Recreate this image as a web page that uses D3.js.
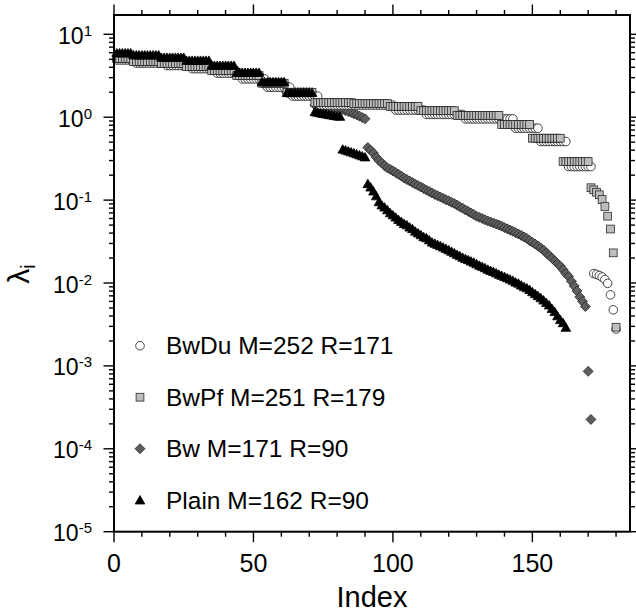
<!DOCTYPE html>
<html>
<head>
<meta charset="utf-8">
<script src="https://cdn.jsdelivr.net/npm/d3@7"></script>
<style>
  body { margin: 0; background: #fff; }
  text { font-family: "Liberation Sans", Arial, Helvetica, sans-serif; fill: #000; }
</style>
</head>
<body>
<svg id="chart" width="636" height="614"></svg>
<script>
// plateaus as [count, value]; tails as one value per index
const bwduRuns = [[7, 4.9], [11, 4.5], [9, 4.2], [9, 3.85], [9, 3.4], [9, 2.9], [9, 2.3], [10, 1.8],
                  [27, 1.40], [11, 1.22], [14, 1.08], [18, 0.955], [9, 0.737], [10, 0.509], [9, 0.254]];
const bwduTail = [0.0130, 0.0127, 0.0123, 0.0118, 0.0110, 0.0099, 0.0072, 0.00475, 0.00279];

const bwpfRuns = [[6, 5.11], [10, 4.70], [9, 4.44], [9, 4.09], [9, 3.66], [9, 3.18], [9, 2.57], [10, 2.00],
                  [14, 1.50], [13, 1.46], [11, 1.35], [13, 1.20], [16, 1.05], [11, 0.817], [11, 0.558], [10, 0.292]];
const bwpfTail = [0.141, 0.133, 0.1245, 0.116, 0.1017, 0.0837, 0.064, 0.0448, 0.0231, 0.00293];

const bwRuns = [[6, 5.5], [10, 5.15], [9, 4.85], [9, 4.45], [9, 3.9], [9, 3.3], [9, 2.6], [10, 1.98]];
const bwTail = [1.40, 1.38, 1.36, 1.35, 1.33, 1.32, 1.30, 1.29, 1.28, 1.27,
  1.24, 1.20, 1.17, 1.14, 1.10, 1.07, 1.03, 0.99, 0.956,
  0.43, 0.40, 0.37, 0.33, 0.30, 0.28, 0.26, 0.245, 0.235, 0.225,
  0.215, 0.205, 0.195, 0.185, 0.177, 0.170, 0.163, 0.156, 0.150, 0.144,
  0.138, 0.132, 0.127, 0.122, 0.117, 0.113, 0.109, 0.105, 0.101, 0.098,
  0.094, 0.091, 0.087, 0.083, 0.080, 0.076, 0.073, 0.070, 0.067, 0.064,
  0.062, 0.060, 0.058, 0.056, 0.0545, 0.053, 0.0515, 0.050, 0.0485, 0.0465,
  0.045, 0.0435, 0.042, 0.0405, 0.039, 0.0375, 0.036, 0.0345, 0.0325, 0.031,
  0.0295, 0.028, 0.0265, 0.025, 0.023, 0.0215, 0.020, 0.0185, 0.0172, 0.016,
  0.0145, 0.013, 0.012, 0.0105, 0.0092, 0.008, 0.0068, 0.006, 0.0052, 0.00086,
  0.000226];

const plainRuns = [[6, 5.95], [10, 5.62], [9, 5.25], [9, 4.83], [9, 4.20], [9, 3.46], [9, 2.66], [10, 1.97]];
const plainTail = [1.16, 1.14, 1.12, 1.10, 1.09, 1.07, 1.06, 1.04, 1.03, 1.02,
  0.41, 0.40, 0.39, 0.38, 0.37, 0.36, 0.35, 0.34, 0.33,
  0.157, 0.143, 0.128, 0.112, 0.095, 0.087, 0.082, 0.076, 0.070, 0.066,
  0.062, 0.058, 0.055, 0.052, 0.050, 0.047, 0.045, 0.042, 0.040, 0.038,
  0.036, 0.035, 0.033, 0.031, 0.030, 0.029, 0.028, 0.027, 0.026, 0.025,
  0.024, 0.023, 0.022, 0.0212, 0.0203, 0.0196, 0.019, 0.0183, 0.0177, 0.017,
  0.0163, 0.0158, 0.0152, 0.0146, 0.0141, 0.0137, 0.0132, 0.0127, 0.0123, 0.0119,
  0.0115, 0.0111, 0.0107, 0.0102, 0.0099, 0.0094, 0.009, 0.0087, 0.0083, 0.0078,
  0.0074, 0.007, 0.0066, 0.0062, 0.0058, 0.0054, 0.0049, 0.0045, 0.004, 0.0036,
  0.0033, 0.0029];

const legendLabels = ["BwDu M=252 R=171", "BwPf M=251 R=179", "Bw M=171 R=90", "Plain M=162 R=90"];
const xTicks = [0, 50, 100, 150];
const yExps = [-5, -4, -3, -2, -1, 0, 1];

function expand(runs, tail) {
  const vals = [];
  runs.forEach(([n, v]) => { for (let k = 0; k < n; k++) vals.push(v); });
  return vals.concat(tail).map((v, i) => ({ i: i + 1, v }));
}

const svg = d3.select("#chart");
const x = d3.scaleLinear().domain([0, 185]).range([114, 630]);
const y = d3.scaleLog().domain([1e-5, 17.1]).range([531.7, 15]);

// series styles
const series = [
  { name: "Bw",    data: expand(bwRuns, bwTail),     type: "diamond",  fill: "#5e5e5e", stroke: "#2a2a2a" },
  { name: "BwDu",  data: expand(bwduRuns, bwduTail), type: "circle",   fill: "#ffffff", stroke: "#1a1a1a" },
  { name: "BwPf",  data: expand(bwpfRuns, bwpfTail), type: "square",   fill: "#bdbdbd", stroke: "#2a2a2a" },
  { name: "Plain", data: expand(plainRuns, plainTail), type: "triangle", fill: "#000000", stroke: "#000000" }
];

function drawMarker(g, type, fill, stroke) {
  if (type === "circle") {
    g.append("circle").attr("r", 4.3);
  } else if (type === "square") {
    g.append("rect").attr("x", -3.9).attr("y", -3.9).attr("width", 7.8).attr("height", 7.8);
  } else if (type === "diamond") {
    g.append("path").attr("d", "M0,-5L5,0L0,5L-5,0Z");
  } else {
    g.append("path").attr("d", "M0,-4.6L4.8,3.8L-4.8,3.8Z");
  }
  g.selectAll("*").attr("fill", fill).attr("stroke", stroke).attr("stroke-width", 0.8);
}

const plotG = svg.append("g");
series.forEach(s => {
  plotG.append("g").selectAll("g")
    .data(s.data)
    .enter().append("g")
    .attr("transform", d => `translate(${x(d.i)},${y(d.v)})`)
    .each(function () { drawMarker(d3.select(this), s.type, s.fill, s.stroke); });
});

// frame
svg.append("rect")
  .attr("x", 114).attr("y", 15)
  .attr("width", 630 - 114).attr("height", 531.7 - 15)
  .attr("fill", "none").attr("stroke", "#000").attr("stroke-width", 2);

// x ticks, bottom and top
const minorX = d3.range(10, 190, 10).filter(v => v % 50 !== 0);
function xTickLines(vals, len) {
  svg.append("g").selectAll("line").data(vals).enter().append("line")
    .attr("x1", d => x(d)).attr("x2", d => x(d))
    .attr("y1", 531.7).attr("y2", 531.7 + len)
    .attr("stroke", "#000").attr("stroke-width", 1.4);
  svg.append("g").selectAll("line").data(vals).enter().append("line")
    .attr("x1", d => x(d)).attr("x2", d => x(d))
    .attr("y1", 15).attr("y2", 15 - len)
    .attr("stroke", "#000").attr("stroke-width", 1.4);
}
xTickLines(xTicks, 10.5);
xTickLines(minorX, 5);

svg.append("g").selectAll("text").data(xTicks).enter().append("text")
  .attr("x", d => x(d)).attr("y", 571.5)
  .attr("text-anchor", "middle")
  .style("font-size", "25px")
  .text(d => d);

// y ticks, left and right
const majorY = yExps.map(e => Math.pow(10, e));
const minorY = [];
yExps.forEach(e => { for (let m = 2; m <= 9; m++) { const v = m * Math.pow(10, e); if (v < 17.1) minorY.push(v); } });
function yTickLines(vals, len) {
  svg.append("g").selectAll("line").data(vals).enter().append("line")
    .attr("y1", d => y(d)).attr("y2", d => y(d))
    .attr("x1", 114).attr("x2", 114 - len)
    .attr("stroke", "#000").attr("stroke-width", 1.4);
  svg.append("g").selectAll("line").data(vals).enter().append("line")
    .attr("y1", d => y(d)).attr("y2", d => y(d))
    .attr("x1", 630).attr("x2", 630 + len)
    .attr("stroke", "#000").attr("stroke-width", 1.4);
}
yTickLines(majorY, 10.5);
yTickLines(minorY, 5);

const yLab = svg.append("g").selectAll("text").data(yExps).enter().append("text")
  .attr("x", 92).attr("y", d => y(Math.pow(10, d)) + 9.5)
  .attr("text-anchor", "end")
  .style("font-size", "23px");
yLab.append("tspan").text("10");
yLab.append("tspan").attr("dy", -8).style("font-size", "15px").text(d => d);

// axis titles
svg.append("text")
  .attr("x", 372).attr("y", 606.5)
  .attr("text-anchor", "middle")
  .style("font-size", "29px")
  .text("Index");

const yTitle = svg.append("text")
  .attr("transform", "translate(29,274) rotate(-90)")
  .attr("text-anchor", "middle")
  .style("font-size", "30px");
yTitle.append("tspan").text("λ");
yTitle.append("tspan").attr("dy", 6).style("font-size", "20px").text("i");

// legend
const legendTypes = [series[1], series[2], series[0], series[3]];
legendLabels.forEach((lab, k) => {
  const cy = 345.7 + 51.5 * k;
  const s = legendTypes[k];
  drawMarker(svg.append("g").attr("transform", `translate(140,${cy})`), s.type, s.fill, s.stroke);
  svg.append("text")
    .attr("x", 166).attr("y", cy + 8.7)
    .style("font-size", "24.5px")
    .text(lab);
});
</script>
</body>
</html>
